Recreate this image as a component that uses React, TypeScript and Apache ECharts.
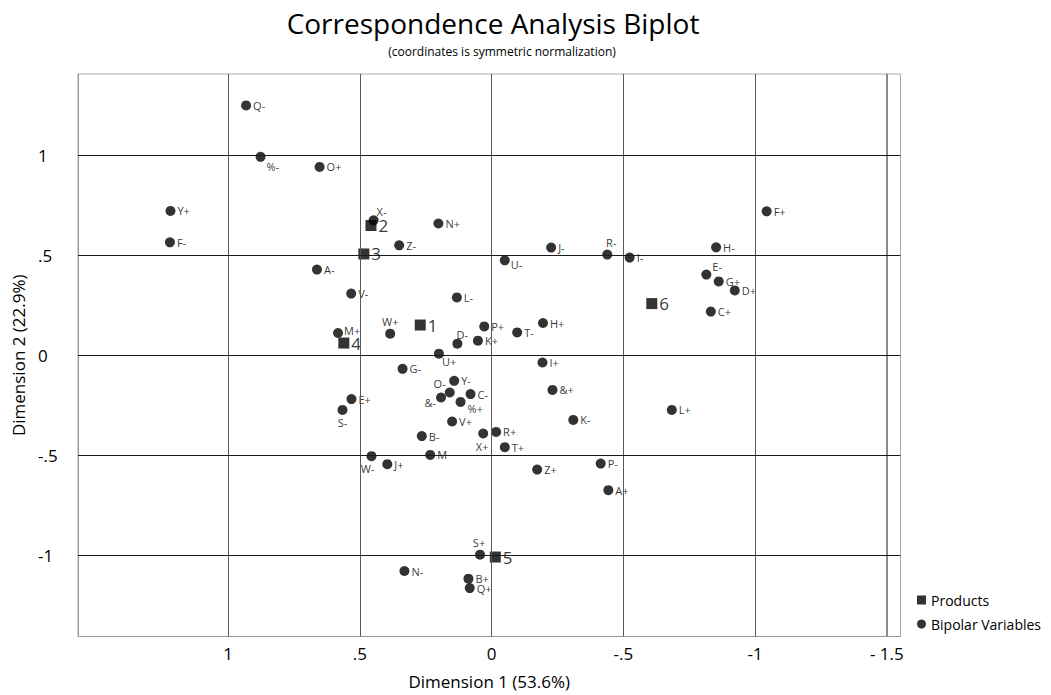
import React, { useEffect, useRef } from "react";
import * as echarts from "echarts";

// ---- Data ----
const productNames = ["1", "2", "3", "4", "5", "6"];
const productX = [0.271, 0.458, 0.485, 0.561, -0.014, -0.608];
const productY = [0.151, 0.648, 0.506, 0.061, -1.008, 0.258];

const varNames = [
  "Q-", "%-", "O+", "Y+", "F-", "A-", "X-", "N+", "Z-", "V-",
  "M+", "W+", "L-", "U-", "J-", "R-", "I-", "H-", "E-", "G+",
  "D+", "C+", "F+", "P+", "D-", "K+", "T-", "H+", "I+", "U+",
  "G-", "Y-", "O-", "&-", "C-", "%+", "&+", "E+", "S-", "V+",
  "K-", "L+", "B-", "X+", "R+", "T+", "M", "W-", "J+", "Z+",
  "P-", "A+", "S+", "N-", "B+", "Q+",
];
const varX = [
  0.932, 0.877, 0.653, 1.219, 1.221, 0.663, 0.448, 0.202, 0.351, 0.533,
  0.583, 0.385, 0.132, -0.05, -0.226, -0.439, -0.524, -0.852, -0.815, -0.862,
  -0.923, -0.832, -1.044, 0.028, 0.13, 0.052, -0.097, -0.195, -0.193, 0.2,
  0.338, 0.142, 0.159, 0.192, 0.08, 0.118, -0.231, 0.532, 0.566, 0.15,
  -0.31, -0.684, 0.265, 0.032, -0.017, -0.05, 0.233, 0.456, 0.396, -0.173,
  -0.414, -0.443, 0.044, 0.331, 0.088, 0.083,
];
const varY = [
  1.248, 0.991, 0.941, 0.721, 0.564, 0.428, 0.674, 0.658, 0.549, 0.308,
  0.111, 0.108, 0.289, 0.474, 0.538, 0.503, 0.488, 0.539, 0.403, 0.369,
  0.324, 0.218, 0.719, 0.144, 0.058, 0.073, 0.114, 0.161, -0.036, 0.008,
  -0.068, -0.128, -0.186, -0.211, -0.194, -0.233, -0.173, -0.219, -0.273, -0.331,
  -0.323, -0.273, -0.404, -0.391, -0.383, -0.459, -0.498, -0.504, -0.544, -0.571,
  -0.541, -0.674, -0.996, -1.078, -1.116, -1.163,
];

const xTickValues = [1, 0.5, 0, -0.5, -1, -1.5];
const xTickTexts = ["1", ".5", "0", "-.5", "-1", "- 1.5"];
const yTickValues = [1, 0.5, 0, -0.5, -1];
const yTickTexts = ["1", ".5", "0", "-.5", "-1"];

// ---- Style: label placement per variable (position + pixel nudge) ----
const labelPlacement: Record<string, { position: string; offset: number[] }> = {
  "%-": { position: "right", offset: [-1, 10] },
  "X-": { position: "right", offset: [-4, -9] },
  "E-": { position: "right", offset: [-1, -8] },
  "M+": { position: "right", offset: [-1, -3] },
  "W+": { position: "top", offset: [0, 0] },
  "D-": { position: "top", offset: [5, 3] },
  "U+": { position: "right", offset: [-4, 8] },
  "U-": { position: "right", offset: [-1, 4] },
  "R-": { position: "top", offset: [4, 0] },
  "O-": { position: "left", offset: [1, -9] },
  "&-": { position: "left", offset: [0, 5] },
  "%+": { position: "right", offset: [0, 7] },
  "S-": { position: "bottom", offset: [0, 0] },
  "W-": { position: "bottom", offset: [-4, 0] },
  "X+": { position: "bottom", offset: [-1, 0] },
  "S+": { position: "top", offset: [-1, 0] },
};

const FONT = "'Open Sans', 'Noto Sans', sans-serif";

function fmt(values: number[], texts: string[]) {
  return (v: number) => {
    const i = values.findIndex((t) => Math.abs(t - v) < 1e-6);
    return i >= 0 ? texts[i] : "";
  };
}

// Translate a position + pixel nudge into label settings
function placeLabel(position: string, offset: number[]) {
  const [dx, dy] = offset;
  const base = position === "left" ? 0 : 2;
  const out: any = { position };
  if (position === "right" || position === "left") {
    out.distance = position === "right" ? base + dx : base - dx;
    if (dy !== 0) {
      out.verticalAlign = dy > 0 ? "top" : "bottom";
      out.lineHeight = Math.abs(dy) * 2;
    }
  } else {
    out.distance = position === "top" ? base - dy : base + dy;
    if (dx !== 0) {
      out.padding = dx > 0 ? [0, 0, 0, 2 * dx] : [0, -2 * dx, 0, 0];
    }
  }
  return out;
}

export default function App() {
  const ref = useRef<HTMLDivElement>(null);

  useEffect(() => {
    if (!ref.current) return;
    const chart = echarts.init(ref.current, undefined, { renderer: "svg" });

    const productData = productNames.map((n, i) => ({
      name: n,
      value: [productX[i], productY[i]],
    }));

    const varData = varNames.map((n, i) => {
      const p = labelPlacement[n] || { position: "right", offset: [0, 0] };
      return {
        name: n,
        value: [varX[i], varY[i]],
        label: placeLabel(p.position, p.offset),
      };
    });

    const gridLines = [
      ...xTickValues.map((v) => ({
        xAxis: v,
        lineStyle: {
          color: v === -1.5 ? "#8a8a8a" : "#5a5a5a",
          width: v === -1.5 ? 2 : 1,
          type: "solid",
        },
      })),
      ...yTickValues.map((v) => ({
        yAxis: v,
        lineStyle: { color: "#1a1a1a", width: 1, type: "solid" },
      })),
    ];

    chart.setOption({
      animation: false,
      backgroundColor: "#fff",
      title: [
        {
          text: "Correspondence Analysis Biplot",
          left: 488,
          top: 4,
          textAlign: "center",
          textStyle: {
            fontSize: 28,
            fontWeight: "normal",
            fontFamily: FONT,
            color: "#000",
          },
        },
        {
          text: "(coordinates is symmetric normalization)",
          left: 497,
          top: 40,
          textAlign: "center",
          textStyle: {
            fontSize: 12,
            fontWeight: "normal",
            fontFamily: FONT,
            color: "#000",
          },
        },
      ],
      legend: {
        orient: "vertical",
        left: 912,
        top: 588,
        itemWidth: 9,
        itemHeight: 9,
        itemGap: 10,
        textStyle: { fontSize: 14, fontFamily: FONT, color: "#000" },
        data: [
          { name: "Products", icon: "rect" },
          { name: "Bipolar Variables", icon: "circle" },
        ],
      },
      grid: {
        left: 78,
        top: 74,
        width: 822.5,
        height: 562.5,
        show: true,
        borderColor: "#aaaaaa",
        borderWidth: 1,
        backgroundColor: "transparent",
      },
      xAxis: {
        type: "value",
        inverse: true,
        min: -1.552,
        max: 1.57,
        splitLine: { show: false },
        axisTick: { show: false },
        axisLine: { show: true, onZero: false, lineStyle: { color: "#999" } },
        axisLabel: {
          formatter: fmt(xTickValues, xTickTexts),
          fontSize: 17,
          fontFamily: FONT,
          color: "#000",
          margin: 8,
        },
        name: "Dimension 1 (53.6%)",
        nameLocation: "middle",
        nameGap: 36,
        nameTextStyle: { fontSize: 17, fontFamily: FONT, color: "#000" },
      },
      yAxis: {
        type: "value",
        min: -1.405,
        max: 1.405,
        splitLine: { show: false },
        axisTick: { show: false },
        axisLine: { show: true, onZero: false, lineStyle: { color: "#999" } },
        axisLabel: {
          formatter: fmt(yTickValues, yTickTexts),
          fontSize: 17,
          fontFamily: FONT,
          color: "#000",
          margin: 40,
          align: "left",
        },
        name: "Dimension 2 (22.9%)",
        nameLocation: "middle",
        nameGap: 47,
        nameTextStyle: { fontSize: 17, fontFamily: FONT, color: "#000" },
      },
      series: [
        {
          type: "scatter",
          name: "grid",
          data: [],
          silent: true,
          z: 1,
          markLine: {
            silent: true,
            symbol: ["none", "none"],
            label: { show: false },
            animation: false,
            data: gridLines,
          },
        },
        {
          type: "scatter",
          name: "Products",
          symbol: "rect",
          symbolSize: 11,
          z: 4,
          itemStyle: { color: "#000" },
          label: {
            show: true,
            formatter: "{b}",
            position: "right",
            distance: 2,
            fontSize: 17,
            fontFamily: FONT,
            color: "#000",
          },
          data: productData,
        },
        {
          type: "scatter",
          name: "Bipolar Variables",
          symbol: "circle",
          symbolSize: 10,
          z: 3,
          itemStyle: { color: "#000" },
          label: {
            show: true,
            formatter: "{b}",
            fontSize: 11,
            fontFamily: FONT,
            color: "#000",
          },
          labelLayout: { hideOverlap: false },
          data: varData,
        },
      ],
    });

    return () => chart.dispose();
  }, []);

  return (
    <div
      ref={ref}
      style={{ position: "absolute", left: 0, top: 0, width: 1051, height: 695 }}
    />
  );
}
